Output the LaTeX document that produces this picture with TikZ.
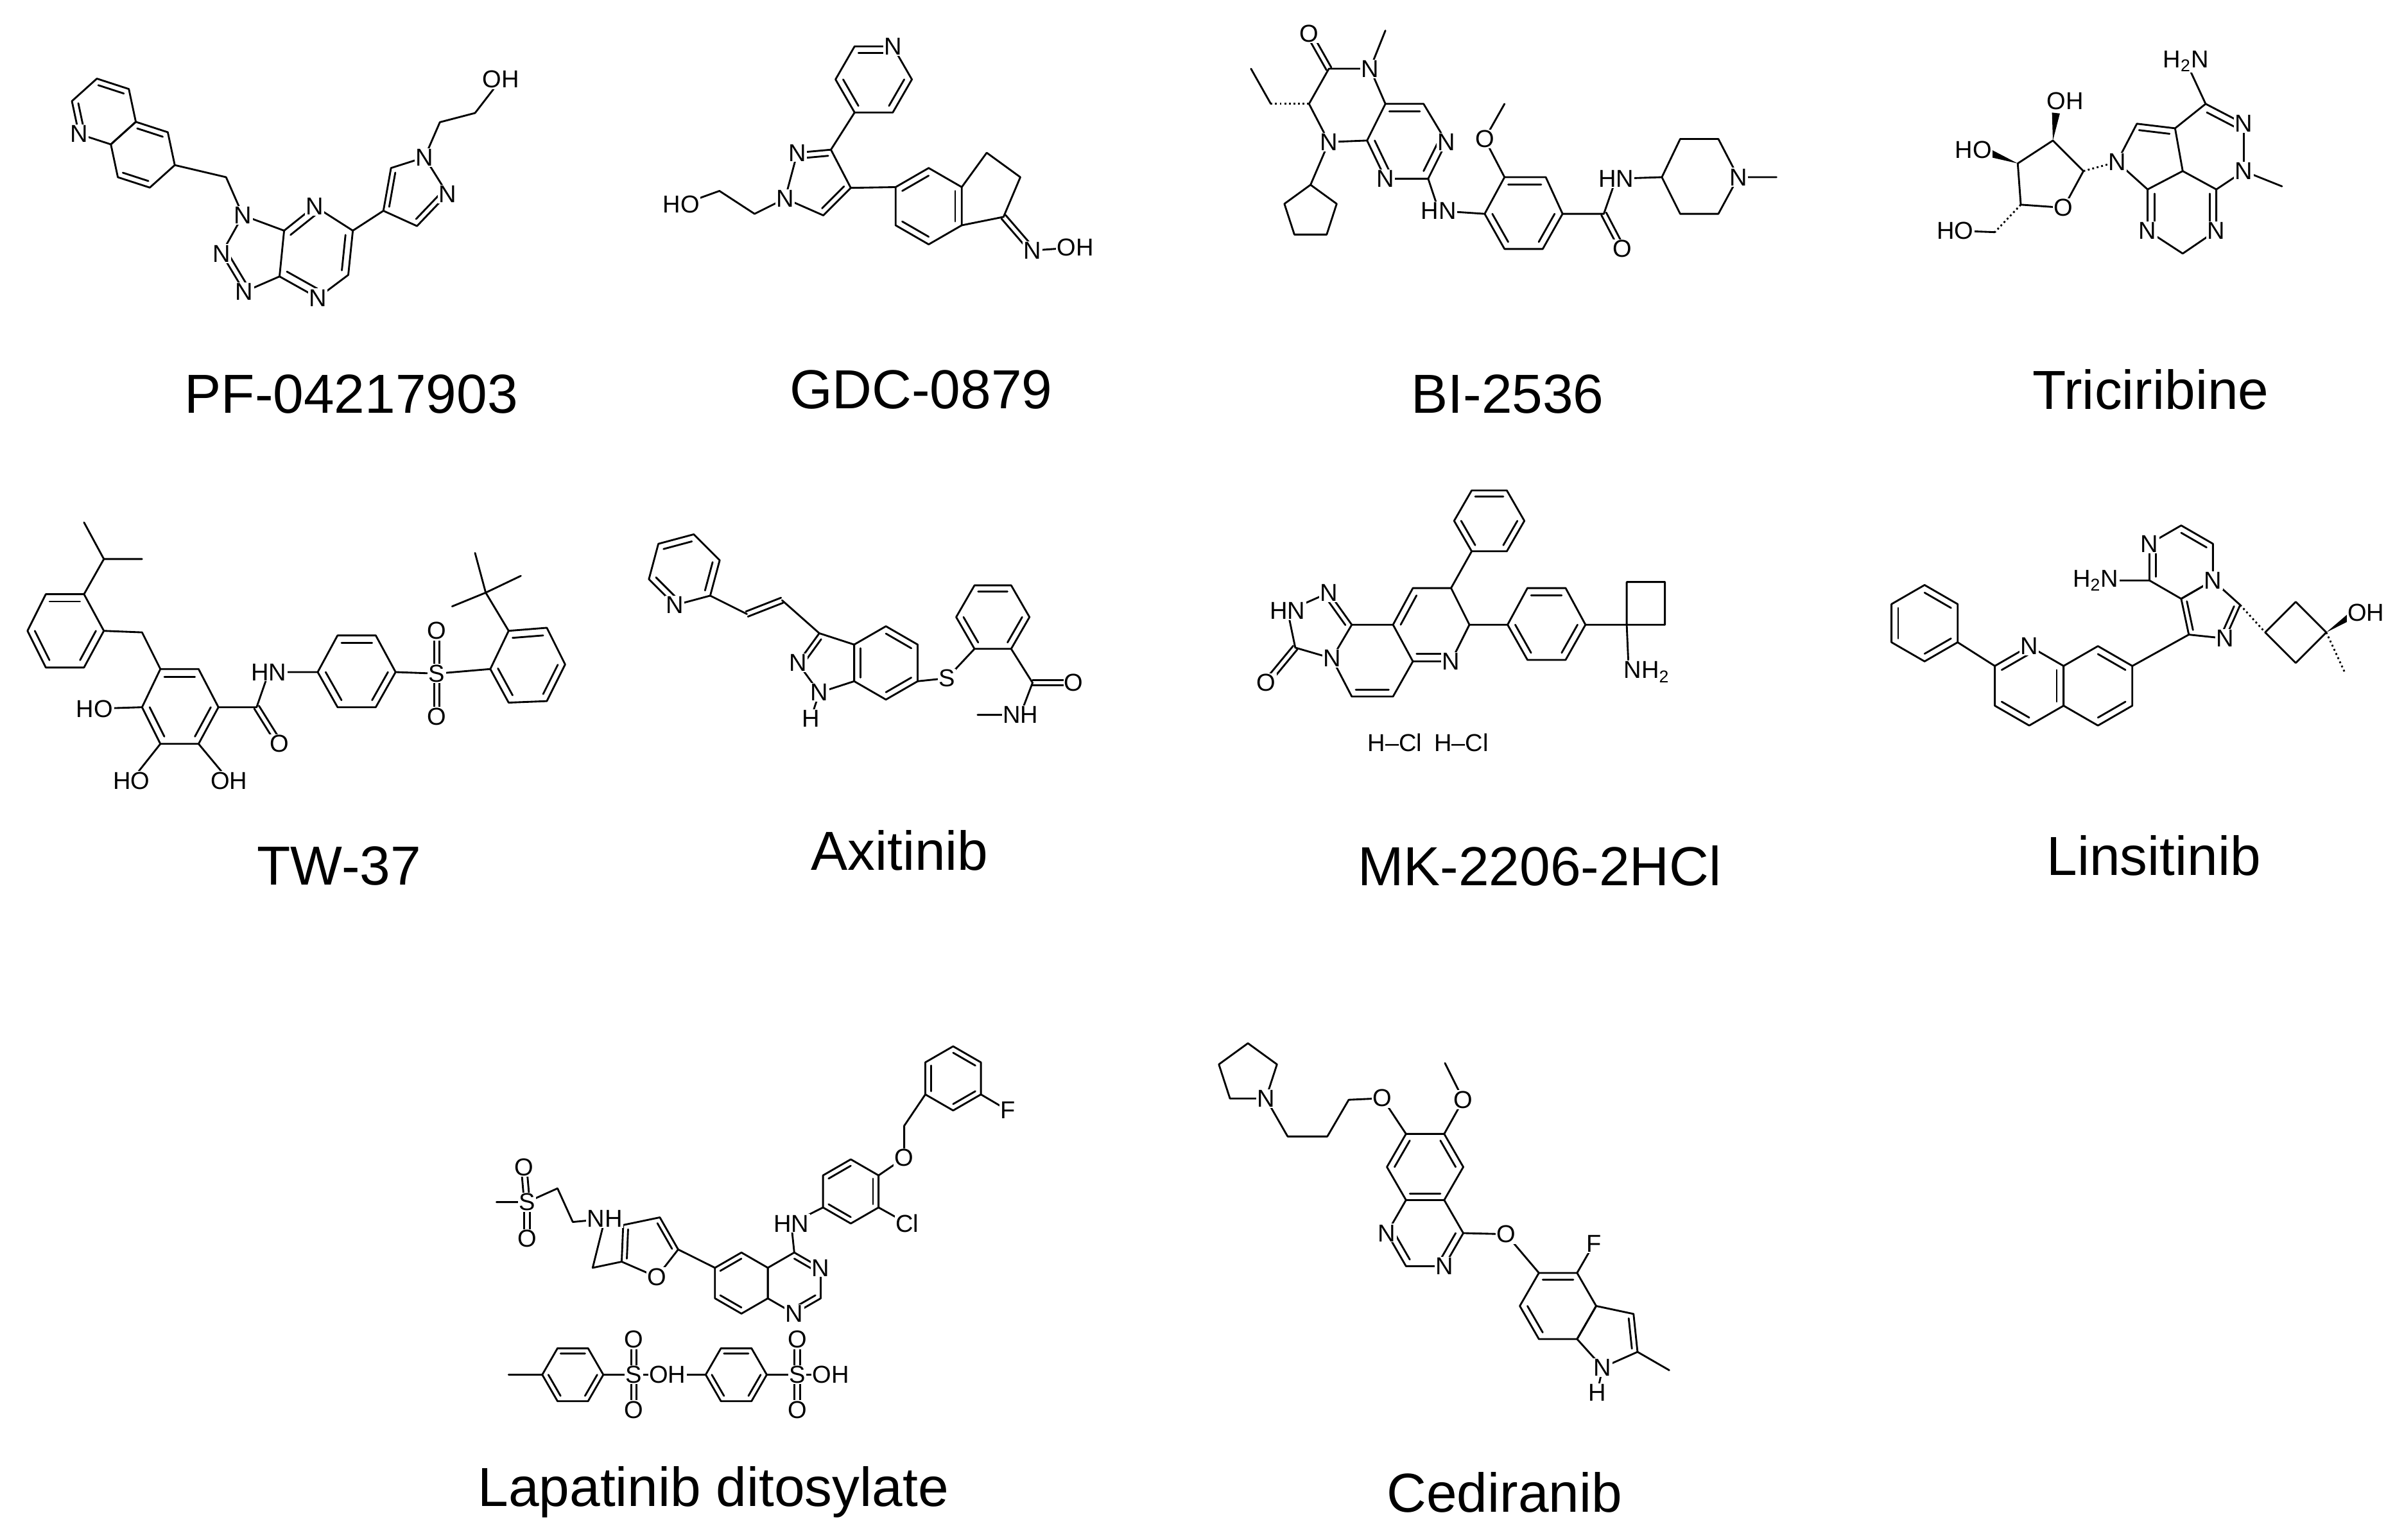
\documentclass[tikz,border=0pt]{standalone}
\usepackage{fontspec}
\setmainfont{Liberation Sans}
\usetikzlibrary{calc}
\tikzset{bond/.style={line width=1.2pt,line cap=round,line join=round},
 atom/.style={fill=white,inner sep=0.6pt,font=\fontsize{16}{16}\selectfont},
 title/.style={font=\fontsize{36}{36}\selectfont},
 hashb/.style={line width=1.2pt,dash pattern=on 1.2pt off 1.8pt}}
\newcommand\polyc[6]{%
 \coordinate (#6-c) at (#2,#3);
 \foreach \k in {1,...,#1}{\coordinate (#6-\k) at ($(#2,#3)+({#5+(\k-1)*360/#1}:#4)$);}
 \draw[bond] (#6-1) \foreach \k in {2,...,#1}{--(#6-\k)} --cycle;}
\newcommand\ring[5]{%
 \coordinate (#5-1) at #1; \coordinate (#5-2) at #2;
 \pgfmathsetmacro\ringia{#4*(180-360/#3)}
 \pgfmathsetmacro\ringca{-90*#4}
 \pgfmathsetmacro\ringct{cot(180/#3)}
 \pgfmathtruncatemacro\ringnm{#3-1}
 \foreach \k in {2,...,\ringnm}{\pgfmathtruncatemacro\km{\k-1}\pgfmathtruncatemacro\kp{\k+1}
   \coordinate (#5-\kp) at ($(#5-\k)!1!\ringia:(#5-\km)$);}
 \coordinate (#5-m) at ($(#5-1)!0.5!(#5-2)$);
 \coordinate (#5-c) at ($(#5-m)!\ringct!\ringca:(#5-2)$);
 \draw[bond] (#5-1) \foreach \k in {2,...,#3}{--(#5-\k)} --cycle;}
\newcommand\db[3]{\draw[bond] ($(#1)!0.2!(#3)$)--($(#2)!0.2!(#3)$);}
\newcommand\dbl[2]{\draw[bond] ($(#1)!1.8pt!90:(#2)$)--($(#2)!1.8pt!-90:(#1)$) ($(#1)!1.8pt!-90:(#2)$)--($(#2)!1.8pt!90:(#1)$);}
\newcommand\exo[4]{\coordinate (#3) at ($(#1-#2)!#4pt!180:(#1-c)$);}
\newcommand\wdg[2]{\fill ($(#1)$) -- ($(#2)!2.6pt!90:(#1)$) -- ($(#2)!2.6pt!-90:(#1)$) -- cycle;}
\newcommand\A[2]{\node[atom] at #1 {#2};}
\begin{document}
\begin{tikzpicture}[x=1pt,y=-1pt]
\useasboundingbox[fill=white] (0,0) rectangle (1568,1008);
% ================= PF-04217903
\polyc{6}{68}{73}{22}{18}{qa}
\polyc{6}{93.5}{101.3}{22}{18}{qb}
\db{qa-5}{qa-6}{qa-c}\db{qa-3}{qa-4}{qa-c}\db{qb-5}{qb-6}{qb-c}\db{qb-2}{qb-3}{qb-c}
\coordinate (pch) at (148,116);
\coordinate (tN1) at (159,141); \coordinate (tN2) at (145,166); \coordinate (tN3) at (160,191);
\coordinate (tC3a) at (183,181); \coordinate (tC7a) at (186,151); \coordinate (pzN4) at (206,135);
\coordinate (pzC5) at (231,151); \coordinate (pzC6) at (228,180); \coordinate (pzN7) at (208,195);
\coordinate (tc) at (167,166); \coordinate (pc) at (207,165);
\draw[bond] (tN1)--(tN2)--(tN3)--(tC3a)--(tC7a)--cycle;
\draw[bond] (tC7a)--(pzN4)--(pzC5)--(pzC6)--(pzN7)--(tC3a);
\db{tC7a}{pzN4}{pc}\db{pzC5}{pzC6}{pc}\db{pzN7}{tC3a}{pc}\db{tN2}{tN3}{tc}
\draw[bond] (qb-1)--(pch)--(tN1);
\coordinate (yC4) at (251,138); \coordinate (yC5) at (256,110); \coordinate (yN1) at (278,103);
\coordinate (yN2) at (293,127); \coordinate (yC3) at (273,148); \coordinate (yc) at (270,125);
\draw[bond] (yC4)--(yC5)--(yN1)--(yN2)--(yC3)--cycle;
\db{yC4}{yC5}{yc}\db{yN2}{yC3}{yc}
\coordinate (yOH) at (328,52);
\draw[bond] (pzC5)--(yC4) (yN1)--(288,80)--(311,74)--(yOH);
\A{(qa-3)}{N}\A{(tN1)}{N}\A{(tN2)}{N}\A{(tN3)}{N}\A{(pzN4)}{N}\A{(pzN7)}{N}
\A{(yN1)}{N}\A{(yN2)}{N}\A{(yOH)}{OH}
\node[title] (t1) at (230,258) {PF-04217903};
% ================= GDC-0879
\polyc{6}{572}{52}{25}{0}{ga}
\db{ga-5}{ga-6}{ga-c}\db{ga-1}{ga-2}{ga-c}\db{ga-3}{ga-4}{ga-c}
\coordinate (gC3) at (544,98); \coordinate (gC4) at (557,123); \coordinate (gC5) at (539,141);
\coordinate (gN1) at (514,130); \coordinate (gN2) at (522,100); \coordinate (gc) at (535,118);
\draw[bond] (gC3)--(gC4)--(gC5)--(gN1)--(gN2)--cycle;
\db{gN2}{gC3}{gc}\db{gC4}{gC5}{gc}
\coordinate (gHO) at (446,134);
\draw[bond] (ga-3)--(gC3) (gN1)--(494,140)--(471,125)--(gHO);
\polyc{6}{608}{135}{25}{210}{gb}
\db{gb-1}{gb-2}{gb-c}\db{gb-3}{gb-4}{gb-c}\db{gb-5}{gb-6}{gb-c}
\coordinate (gp1) at (646,100); \coordinate (gp2) at (668,116); \coordinate (gp3) at (657,142);
\coordinate (gNx) at (676,164); \coordinate (gOx) at (704,162);
\draw[bond] (gC4)--(gb-1) (gb-3)--(gp1)--(gp2)--(gp3)--(gb-4) (gNx)--(gOx);
\dbl{gp3}{gNx}
\A{(ga-6)}{N}\A{(gN1)}{N}\A{(gN2)}{N}\A{(gHO)}{HO}\A{(gNx)}{N}\A{(gOx)}{OH}
\node[title] (t2) at (603,255) {GDC-0879};
% ================= BI-2536
\coordinate (bO) at (857,22); \coordinate (bC6) at (870,45); \coordinate (bN5) at (897,45);
\coordinate (bMe) at (907,20); \coordinate (bC4a) at (907,68); \coordinate (bC4) at (932,68);
\coordinate (bN3) at (947,93); \coordinate (bC2) at (935,117); \coordinate (bN1) at (907,117);
\coordinate (bC8a) at (895,92); \coordinate (bN8) at (870,93); \coordinate (bC7) at (857,68);
\coordinate (bE1) at (832,68); \coordinate (bE2) at (819,45); \coordinate (bpc) at (920,92);
\draw[bond] (bC6)--(bN5)--(bC4a)--(bC8a)--(bN8)--(bC7)--cycle;
\draw[bond] (bC4a)--(bC4)--(bN3)--(bC2)--(bN1)--(bC8a);
\db{bC4a}{bC4}{bpc}\db{bN3}{bC2}{bpc}\db{bN1}{bC8a}{bpc}
\dbl{bC6}{bO}
\draw[bond] (bN5)--(bMe) (bE1)--(bE2);
\draw[hashb] (bC7)--(bE1);
\polyc{5}{858}{139}{18}{270}{bcp}
\draw[bond] (bN8)--(bcp-1);
\coordinate (bHN) at (942,138);
\coordinate (bA1) at (972,140); \coordinate (bA2) at (985,116); \coordinate (bA3) at (1012,116);
\coordinate (bA4) at (1023,140); \coordinate (bA5) at (1010,163); \coordinate (bA6) at (985,163);
\coordinate (bAc) at (997,140);
\draw[bond] (bA1)--(bA2)--(bA3)--(bA4)--(bA5)--(bA6)--cycle;
\db{bA2}{bA3}{bAc}\db{bA4}{bA5}{bAc}\db{bA6}{bA1}{bAc}
\coordinate (bOm) at (972,91); \coordinate (bCa) at (1050,140); \coordinate (bOa) at (1062,163);
\coordinate (bHN2) at (1058,117); \coordinate (bPN) at (1138,116);
\draw[bond] (bC2)--(bHN)--(bA1) (bA2)--(bOm)--(985,68) (bA4)--(bCa)--(bHN2)--(1088,116);
\dbl{bCa}{bOa}
\draw[bond] (1088,116)--(1100,91)--(1125,91)--(bPN)--(1125,140)--(1100,140)--cycle (bPN)--(1163,116);
\A{(bO)}{O}\A{(bN5)}{N}\A{(bN3)}{N}\A{(bN1)}{N}\A{(bN8)}{N}\A{(bHN)}{HN}
\A{(bOm)}{O}\A{(bOa)}{O}\A{(bHN2)}{HN}\A{(bPN)}{N}
\node[title] (t3) at (987,258) {BI-2536};
% ================= Triciribine
\coordinate (tH2N) at (1431,40); \coordinate (tC5) at (1444,68); \coordinate (tN6) at (1469,81);
\coordinate (tN7) at (1469,112); \coordinate (tMe) at (1494,122); \coordinate (tCe) at (1451,124);
\coordinate (tCc) at (1429,112); \coordinate (tCb) at (1424,84); \coordinate (tCH) at (1399,81);
\coordinate (tNp) at (1386,106); \coordinate (tCd) at (1406,124); \coordinate (tNa) at (1406,151);
\coordinate (tCm) at (1429,166); \coordinate (tNb) at (1451,151);
\coordinate (tq1) at (1406,102); \coordinate (tq2) at (1448,96); \coordinate (tq3) at (1429,138);
\draw[bond] (tNp)--(tCH)--(tCb)--(tCc)--(tCd)--cycle;
\draw[bond] (tCb)--(tC5)--(tN6)--(tN7)--(tCe)--(tCc);
\draw[bond] (tCd)--(tNa)--(tCm)--(tNb)--(tCe);
\db{tCH}{tCb}{tq1}\db{tC5}{tN6}{tq2}\db{tCd}{tNa}{tq3}\db{tNb}{tCe}{tq3}
\draw[bond] (tC5)--(tH2N) (tN7)--(tMe);
\coordinate (rC1) at (1364,112); \coordinate (rC2) at (1344,92); \coordinate (rC3) at (1321,107);
\coordinate (rC4) at (1323,134); \coordinate (rO) at (1351,136);
\draw[bond] (rC1)--(rC2)--(rC3)--(rC4)--(rO)--cycle;
\draw[hashb] (rC1)--(tNp) (rC4)--(1306,152);
\wdg{rC2}{1346,74}\wdg{rC3}{1302,100}
\coordinate (rOH) at (1352,66); \coordinate (rHO) at (1292,98); \coordinate (rHO2) at (1280,151);
\draw[bond] (1306,152)--(rHO2);
\A{(tH2N)}{H\textsubscript{2}N}\A{(tN6)}{N}\A{(tN7)}{N}\A{(tNp)}{N}\A{(tNa)}{N}\A{(tNb)}{N}
\A{(rO)}{O}\A{(rOH)}{OH}\A{(rHO)}{HO}\A{(rHO2)}{HO}
\node[title] (t4) at (1408,255) {Triciribine};
% ================= TW-37
\coordinate (wa1) at (55,389); \coordinate (wa2) at (30,389); \coordinate (wa3) at (18,413);
\coordinate (wa4) at (30,437); \coordinate (wa5) at (55,437); \coordinate (wa6) at (68,413);
\coordinate (wac) at (42,413);
\draw[bond] (wa1)--(wa2)--(wa3)--(wa4)--(wa5)--(wa6)--cycle;
\db{wa1}{wa2}{wac}\db{wa3}{wa4}{wac}\db{wa5}{wa6}{wac}
\draw[bond] (wa1)--(68,366)--(55,342) (68,366)--(93,366) (wa6)--(93,414)--(105,438);
\coordinate (wb1) at (105,438); \coordinate (wb2) at (130,438); \coordinate (wb3) at (143,463);
\coordinate (wb4) at (130,487); \coordinate (wb5) at (105,487); \coordinate (wb6) at (93,463);
\coordinate (wbc) at (118,463);
\draw[bond] (wb1)--(wb2)--(wb3)--(wb4)--(wb5)--(wb6)--cycle;
\db{wb1}{wb2}{wbc}\db{wb3}{wb4}{wbc}\db{wb5}{wb6}{wbc}
\coordinate (wHO1) at (62,464); \coordinate (wHO2) at (86,511); \coordinate (wOH3) at (150,511);
\coordinate (wC) at (168,463); \coordinate (wO) at (183,487); \coordinate (wHN) at (176,440);
\draw[bond] (wb6)--(wHO1) (wb5)--(wHO2) (wb4)--(wOH3) (wb3)--(wC)--(wHN)--(208,440);
\dbl{wC}{wO}
\coordinate (wc1) at (208,440); \coordinate (wc2) at (221,416); \coordinate (wc3) at (246,416);
\coordinate (wc4) at (259,440); \coordinate (wc5) at (246,463); \coordinate (wc6) at (221,463);
\coordinate (wcc) at (234,440);
\draw[bond] (wc1)--(wc2)--(wc3)--(wc4)--(wc5)--(wc6)--cycle;
\db{wc2}{wc3}{wcc}\db{wc4}{wc5}{wcc}\db{wc6}{wc1}{wcc}
\coordinate (wS) at (286,441); \coordinate (wO1) at (286,413); \coordinate (wO2) at (286,469);
\draw[bond] (wc4)--(wS)--(321,438);
\dbl{wS}{wO1}\dbl{wS}{wO2}
\coordinate (wd1) at (321,438); \coordinate (wd2) at (333,413); \coordinate (wd3) at (358,411);
\coordinate (wd4) at (370,435); \coordinate (wd5) at (358,459); \coordinate (wd6) at (333,460);
\coordinate (wdc) at (346,436);
\draw[bond] (wd1)--(wd2)--(wd3)--(wd4)--(wd5)--(wd6)--cycle;
\db{wd2}{wd3}{wdc}\db{wd4}{wd5}{wdc}\db{wd6}{wd1}{wdc}
\draw[bond] (wd2)--(318,388)--(311,362) (318,388)--(296,397) (318,388)--(341,377);
\A{(wHO1)}{HO}\A{(wHO2)}{HO}\A{(wOH3)}{OH}\A{(wO)}{O}\A{(wHN)}{HN}\A{(wS)}{S}\A{(wO1)}{O}\A{(wO2)}{O}
\node[title] (t5) at (222,567) {TW-37};
% ================= Axitinib
\polyc{6}{448}{373}{24}{-75}{xa}
\db{xa-2}{xa-3}{xa-c}\db{xa-4}{xa-5}{xa-c}\db{xa-6}{xa-1}{xa-c}
\polyc{6}{580}{434}{24}{90}{xb}
\db{xb-4}{xb-5}{xb-c}\db{xb-6}{xb-1}{xb-c}\db{xb-2}{xb-3}{xb-c}
\ring{(xb-3)}{(xb-2)}{5}{1}{xp}
\db{xp-4}{xp-5}{xp-c}
\exo{xp}{3}{xH}{18}
\coordinate (xv1) at (489,402); \coordinate (xv2) at (512,393);
\draw[bond] (xa-3)--(xv1) (xv2)--(xp-5) (xp-3)--(xH);
\dbl{xv1}{xv2}
\polyc{6}{650}{404}{24}{0}{xe}
\db{xe-1}{xe-2}{xe-c}\db{xe-3}{xe-4}{xe-c}\db{xe-5}{xe-6}{xe-c}
\coordinate (xS) at (620,444); \coordinate (xCa) at (676,447); \coordinate (xO) at (703,447);
\coordinate (xNH) at (668,468);
\draw[bond] (xb-6)--(xS)--(xe-3) (xe-2)--(xCa)--(xNH)--(640,468);
\dbl{xCa}{xO}
\A{(xa-4)}{N}\A{(xp-4)}{N}\A{(xp-3)}{N}\A{(xH)}{H}\A{(xS)}{S}\A{(xO)}{O}\A{(xNH)}{NH}
\node[title] (t6) at (589,557) {Axitinib};
% ================= MK-2206 2HCl
\polyc{6}{975}{341}{23}{0}{ma}
\db{ma-1}{ma-2}{ma-c}\db{ma-3}{ma-4}{ma-c}\db{ma-5}{ma-6}{ma-c}
\coordinate (mA) at (950,385); \coordinate (mB) at (925,385); \coordinate (mC) at (912,409);
\coordinate (mD) at (925,433); \coordinate (mN) at (950,433); \coordinate (mF) at (962,409);
\coordinate (mc1) at (937,409);
\coordinate (mG) at (885,409); \coordinate (mN2) at (872,431); \coordinate (mH) at (885,456);
\coordinate (mI) at (912,456); \coordinate (mc2) at (898,433);
\coordinate (mT1) at (870,388); \coordinate (mT2) at (843,400); \coordinate (mT3) at (848,424);
\coordinate (mO) at (829,447); \coordinate (mc3) at (864,410);
\draw[bond] (ma-3)--(mA)--(mB)--(mC)--(mD)--(mN)--(mF)--(mA);
\draw[bond] (mC)--(mG)--(mN2)--(mH)--(mI)--(mD);
\draw[bond] (mG)--(mT1)--(mT2)--(mT3)--(mN2);
\db{mB}{mC}{mc1}\db{mD}{mN}{mc1}\db{mH}{mI}{mc2}\db{mG}{mT1}{mc3}
\dbl{mT3}{mO}
\coordinate (mg1) at (987,409); \coordinate (mg2) at (1000,385); \coordinate (mg3) at (1025,385);
\coordinate (mg4) at (1038,409); \coordinate (mg5) at (1025,432); \coordinate (mg6) at (1000,432);
\coordinate (mgc) at (1012,409);
\draw[bond] (mg1)--(mg2)--(mg3)--(mg4)--(mg5)--(mg6)--cycle (mF)--(mg1);
\db{mg2}{mg3}{mgc}\db{mg4}{mg5}{mgc}\db{mg6}{mg1}{mgc}
\coordinate (mNH2) at (1078,440);
\draw[bond] (mg4)--(1065,409)--(1065,381)--(1090,381)--(1090,409)--(1065,409)--(1066,432);
\A{(mN)}{N}\A{(mN2)}{N}\A{(mT1)}{N}\A{(mT2)}{HN}\A{(mO)}{O}\A{(mNH2)}{NH\textsubscript{2}}
\node[atom] (hcl) at (935,486) {H–Cl\hspace{0.5em}H–Cl};
\node[title] (t7) at (1008,567) {MK-2206-2HCl};
% ================= Linsitinib
\polyc{6}{1260}{408}{25}{270}{lp}
\db{lp-1}{lp-2}{lp-c}\db{lp-3}{lp-4}{lp-c}\db{lp-5}{lp-6}{lp-c}
\polyc{6}{1328.5}{449}{26}{270}{lq}
\polyc{6}{1373.5}{449}{26}{270}{lr}
\db{lq-6}{lq-1}{lq-c}\db{lq-4}{lq-5}{lq-c}\db{lq-2}{lq-3}{lq-c}\db{lr-1}{lr-2}{lr-c}\db{lr-3}{lr-4}{lr-c}
\draw[bond] (lp-3)--(lq-6);
\polyc{6}{1428}{368}{24}{90}{lz}
\db{lz-2}{lz-3}{lz-c}\db{lz-4}{lz-5}{lz-c}
\ring{(lz-1)}{(lz-6)}{5}{1}{li}
\db{li-3}{li-4}{li-c}\db{li-5}{li-1}{li-c}
\coordinate (lH2N) at (1372,380);
\draw[bond] (li-5)--(lr-2) (lz-2)--(lH2N);
\coordinate (lc1) at (1483,414); \coordinate (lc2) at (1503,394); \coordinate (lc3) at (1523,414); \coordinate (lc4) at (1503,434);
\draw[hashb] (li-3)--(lc1) (lc3)--(1535,440);
\draw[bond] (lc1)--(lc2)--(lc3)--(lc4)--cycle;
\wdg{lc3}{1541,402}
\coordinate (lOH) at (1549,401);
\A{(lq-1)}{N}\A{(lH2N)}{H\textsubscript{2}N}\A{(lz-3)}{N}\A{(lz-6)}{N}\A{(li-4)}{N}\A{(lOH)}{OH}
\node[title] (t8) at (1410,560) {Linsitinib};
% ================= Lapatinib ditosylate
\polyc{6}{624}{706}{21}{270}{lf}
\db{lf-1}{lf-2}{lf-c}\db{lf-3}{lf-4}{lf-c}\db{lf-5}{lf-6}{lf-c}
\polyc{6}{557}{780}{21}{270}{la}
\db{la-6}{la-1}{la-c}\db{la-2}{la-3}{la-c}\db{la-4}{la-5}{la-c}
\coordinate (lF) at (660,727); \coordinate (lOb) at (592,758); \coordinate (lCl) at (594,801); \coordinate (lHN) at (518,801);
\draw[bond] (lf-3)--(lF) (lf-5)--(592,737)--(lOb)--(la-2) (la-3)--(lCl) (la-5)--(lHN);
\polyc{6}{520}{840}{20}{270}{ka}
\polyc{6}{485.4}{840}{20}{270}{kb}
\db{ka-1}{ka-2}{ka-c}\db{ka-3}{ka-4}{ka-c}\db{kb-6}{kb-1}{kb-c}\db{kb-4}{kb-5}{kb-c}
\draw[bond] (lHN)--(ka-1);
\coordinate (fC5) at (444,818); \coordinate (fO) at (430,836); \coordinate (fC2) at (407,826);
\coordinate (fC3) at (408,802); \coordinate (fC4) at (432,797); \coordinate (fc) at (424,816);
\draw[bond] (kb-6)--(fC5);
\draw[bond] (fC5)--(fO)--(fC2)--(fC3)--(fC4)--cycle;
\db{fC2}{fC3}{fc}\db{fC4}{fC5}{fc}
\coordinate (lNH) at (396,798); \coordinate (lS) at (345,787); \coordinate (lSO1) at (343,764); \coordinate (lSO2) at (345,811);
\draw[bond] (fC2)--(388,830)--(lNH)--(375,800)--(365,778)--(lS)--(325,787);
\dbl{lS}{lSO1}\dbl{lS}{lSO2}
\polyc{6}{375}{900}{20}{0}{ta}
\polyc{6}{482}{900}{20}{0}{tb}
\db{ta-1}{ta-2}{ta-c}\db{ta-3}{ta-4}{ta-c}\db{ta-5}{ta-6}{ta-c}
\db{tb-1}{tb-2}{tb-c}\db{tb-3}{tb-4}{tb-c}\db{tb-5}{tb-6}{tb-c}
\coordinate (tS1) at (415,900); \coordinate (tS2) at (522,900);
\coordinate (tOH1) at (437,900); \coordinate (tOH2) at (544,900);
\draw[bond] (ta-4)--(333,900) (ta-1)--(tS1)--(tOH1)--(tb-4) (tb-1)--(tS2)--(tOH2);
\dbl{tS1}{415,877}\dbl{tS1}{415,923}\dbl{tS2}{522,877}\dbl{tS2}{522,923}
\A{(lF)}{F}\A{(lOb)}{O}\A{(lCl)}{Cl}\A{(lHN)}{HN}\A{(ka-2)}{N}\A{(ka-4)}{N}\A{(fO)}{O}\A{(lNH)}{NH}
\A{(lS)}{S}\A{(lSO1)}{O}\A{(lSO2)}{O}
\A{(tS1)}{S}\A{(415,877)}{O}\A{(415,923)}{O}\A{(tOH1)}{OH}
\A{(tS2)}{S}\A{(522,877)}{O}\A{(522,923)}{O}\A{(tOH2)}{OH}
\node[title] (t9) at (467,977) {Lapatinib ditosylate};
% ================= Cediranib
\polyc{5}{817}{703}{20}{270}{cp}
\coordinate (cO) at (905,719);
\draw[bond] (cp-3)--(843,744)--(869,744)--(883,720)--(cO);
\polyc{6}{933}{764}{25}{0}{cb}
\polyc{6}{933}{807.3}{25}{0}{cy}
\db{cb-4}{cb-5}{cb-c}\db{cb-6}{cb-1}{cb-c}\db{cb-2}{cb-3}{cb-c}\db{cy-1}{cy-2}{cy-c}\db{cy-3}{cy-4}{cy-c}
\coordinate (cOm) at (958,720); \coordinate (cO2) at (986,808);
\draw[bond] (cO)--(cb-5) (cb-6)--(cOm)--(946,696) (cy-1)--(cO2);
\polyc{6}{1020}{855}{25}{240}{ci}
\ring{(ci-4)}{(ci-3)}{5}{1}{cr}
\db{ci-1}{ci-2}{ci-c}\db{ci-5}{ci-6}{ci-c}\db{cr-3}{cr-4}{cr-c}
\exo{ci}{2}{cF}{22}
\exo{cr}{4}{cMe}{24}
\exo{cr}{5}{cH}{17}
\draw[bond] (cO2)--(ci-1) (ci-2)--(cF) (cr-4)--(cMe) (cr-5)--(cH);
\A{(cp-3)}{N}\A{(cO)}{O}\A{(cOm)}{O}\A{(cy-2)}{N}\A{(cy-4)}{N}\A{(cO2)}{O}\A{(cF)}{F}\A{(cr-5)}{N}\A{(cH)}{H}
\node[title] (t10) at (985,977) {Cediranib};
\end{tikzpicture}
\end{document}
